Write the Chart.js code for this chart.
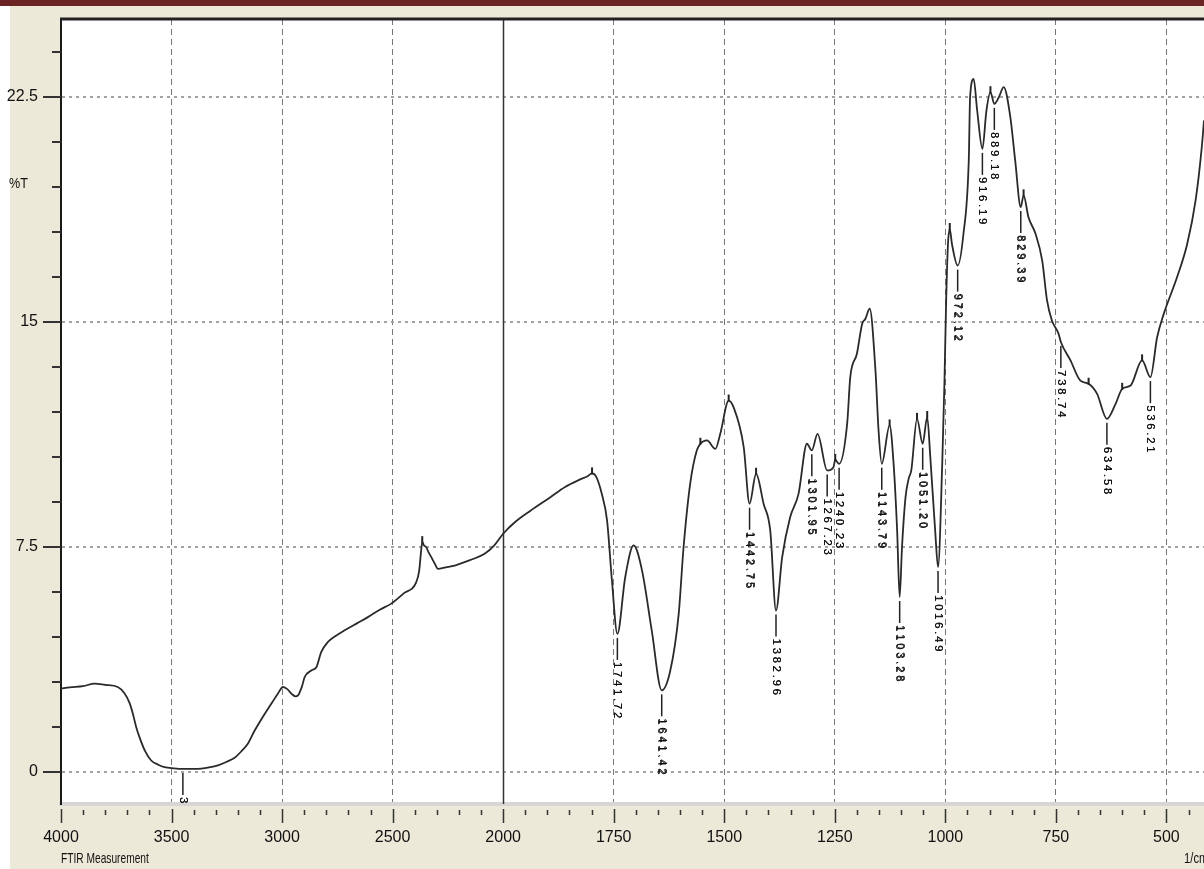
<!DOCTYPE html>
<html>
<head>
<meta charset="utf-8">
<script src="https://cdn.jsdelivr.net/npm/chart.js@4.4.1/dist/chart.umd.min.js"></script>
<style>
  html, body { margin: 0; padding: 0; overflow: hidden; background: #ECE9D8; }
  canvas { display: block; }
</style>
</head>
<body>
<canvas id="ftir" width="1204" height="869"></canvas>
<script>
// FTIR spectrum: wavenumber (1/cm) and transmittance (%T)
const wavenumbers = [
  4000, 3960, 3900, 3848, 3800, 3743, 3713, 3690, 3675, 3660, 3645, 3620, 3592, 3560, 3532, 3490,
  3448.72, 3400, 3366, 3330, 3290, 3250, 3215, 3185, 3155, 3124, 3090, 3049, 3020, 2996, 2975, 2958,
  2940, 2928, 2910, 2898, 2868, 2845, 2823, 2793, 2760, 2717, 2660, 2612, 2560, 2506, 2450, 2393,
  2380, 2372, 2366, 2358, 2348, 2336, 2325, 2310, 2295, 2260, 2219, 2150, 2084, 2040, 2000,
  1973, 1939, 1894, 1860, 1826, 1810, 1799, 1790, 1777, 1765, 1754, 1741.72, 1724, 1705, 1686, 1664,
  1641.42, 1622, 1603, 1592, 1577, 1562, 1554, 1539, 1520, 1509, 1490, 1479, 1456, 1442.75, 1428,
  1411, 1396, 1382.96, 1369, 1351, 1332, 1313, 1301.95, 1289, 1267.23, 1253, 1249, 1240.23, 1222,
  1215, 1200, 1188, 1181, 1171, 1158, 1151, 1143.79, 1126, 1117, 1109, 1103.28, 1098, 1090, 1083,
  1077, 1064, 1051.20, 1041, 1034, 1023, 1016.49, 1007, 1002, 998, 994, 990, 985, 972.12, 959, 947,
  944, 936, 928, 916.19, 907, 898, 889.18, 879, 868, 853, 842, 829.39, 823, 812, 796, 781, 770, 759,
  744, 738.74, 717, 695, 676, 657, 634.58, 615, 600, 581, 555, 536.21, 521, 506, 476, 453, 434, 420,
  415, 400
];
const transmittance = [
  2.78, 2.82, 2.86, 2.94, 2.90, 2.83, 2.62, 2.30, 1.94, 1.50, 1.16, 0.70, 0.38, 0.24, 0.16, 0.12,
  0.10, 0.10, 0.11, 0.15, 0.22, 0.34, 0.47, 0.68, 0.94, 1.38, 1.80, 2.27, 2.60, 2.83, 2.75, 2.61,
  2.52, 2.55, 2.85, 3.16, 3.38, 3.49, 3.99, 4.33, 4.52, 4.72, 4.96, 5.16, 5.40, 5.61, 5.95, 6.33,
  6.70, 7.30, 7.66, 7.55, 7.49, 7.30, 7.16, 6.95, 6.77, 6.82, 6.88, 7.06, 7.27, 7.55, 7.94,
  8.33, 8.70, 9.15, 9.50, 9.75, 9.85, 9.95, 9.85, 9.27, 8.38, 6.38, 4.60, 6.49, 7.55, 6.72, 4.72,
  2.72, 3.38, 5.27, 7.49, 9.61, 10.72, 10.94, 11.05, 10.77, 11.27, 12.38, 12.16, 10.83, 8.94, 9.94,
  8.94, 8.05, 5.38, 7.16, 8.49, 9.27, 10.94, 10.72, 11.27, 10.05, 10.16, 10.40, 10.27, 11.61,
  13.16, 13.94, 14.94, 15.10, 15.44, 13.38, 11.38, 10.27, 11.55, 10.27, 8.05, 5.83, 7.49, 9.16, 9.77,
  10.05, 11.77, 10.94, 11.83, 10.50, 8.05, 6.83, 10.27, 13.00, 15.80, 17.60, 18.10, 17.60, 16.88, 17.94, 20.38,
  22.49, 23.10, 22.05, 20.77, 22.05, 22.66, 22.27, 22.49, 22.83, 21.83, 20.38, 18.83, 19.22, 18.49, 17.94, 17.05, 15.72, 15.05,
  14.61, 14.33, 13.72, 13.05, 12.94, 12.61, 11.77, 12.27, 12.77, 12.88, 13.72, 13.16, 14.49, 15.27, 16.49, 17.60, 19.05, 20.83,
  21.72, 24.50
];

// picked absorption bands (labels drawn under each band)
const peakLabels = [
  '3448.72', '1741.72', '1641.42', '1442.75', '1382.96', '1301.95', '1267.23', '1240.23',
  '1143.79', '1103.28', '1051.20', '1016.49', '972.12', '916.19', '889.18', '829.39',
  '738.74', '634.58', '536.21'
];
// small markers on local maxima
const maximaMarks = [2366, 1799, 1554, 1490, 1428, 1249, 1126, 1064, 1041, 990, 898, 823, 676, 600, 555];

const xTickLabels = ['4000', '3500', '3000', '2500', '2000', '1750', '1500', '1250', '1000', '750', '500'];
const yTickLabels = ['0', '7.5', '15', '22.5'];
const yMinorStep = 1.5;
const xMinorPerDivision = 5;

const FONT = "'Liberation Sans', Arial, sans-serif";

// split abscissa: 500 1/cm per division above 2000, 250 1/cm per division below
function toAxis(wn) { return wn >= 2000 ? (4000 - wn) / 500 : 4 + (2000 - wn) / 250; }
function valueAt(wn) { return transmittance[wavenumbers.indexOf(wn)]; }

const points = wavenumbers.map((wn, i) => ({ x: toAxis(wn), y: transmittance[i] }));
const xMajor = xTickLabels.map(l => ({ pos: toAxis(parseFloat(l)), label: l }));
const splitPos = toAxis(2000);
const yMajor = yTickLabels.map(l => ({ pos: parseFloat(l), label: l }));

function isXMajor(v) { return xMajor.find(m => Math.abs(m.pos - v) < 1e-6); }
function isYMajor(v) { return yMajor.find(m => Math.abs(m.pos - v) < 1e-6); }

// narrow caption text
function caption(ctx, text, x, y, size, squeeze) {
  ctx.save();
  ctx.translate(x, y);
  ctx.scale(squeeze, 1);
  ctx.font = size + 'px ' + FONT;
  ctx.fillText(text, 0, 0);
  ctx.restore();
}

const frame = {
  id: 'frame',
  beforeDraw(chart) {
    const { ctx, chartArea: a, width, height } = chart;
    ctx.save();
    ctx.fillStyle = '#ECE9D8';
    ctx.fillRect(0, 0, width, height);
    ctx.fillStyle = '#ffffff';
    ctx.fillRect(0, 0, 10, height);
    ctx.fillStyle = '#6b2323';
    ctx.fillRect(0, 0, width, 6);
    ctx.fillStyle = '#ffffff';
    ctx.fillRect(a.left, a.top, a.right - a.left, a.bottom - a.top);
    ctx.restore();
  },
  beforeDatasetsDraw(chart) {
    const { ctx, chartArea: a, scales: { x } } = chart;
    const px = Math.round(x.getPixelForValue(splitPos)) + 0.5;
    ctx.save();
    ctx.strokeStyle = '#333';
    ctx.lineWidth = 1.5;
    ctx.beginPath();
    ctx.moveTo(px, a.top);
    ctx.lineTo(px, a.bottom);
    ctx.stroke();
    ctx.restore();
  },
  afterDatasetsDraw(chart) {
    const { ctx, chartArea: a, scales: { x, y } } = chart;
    ctx.save();
    ctx.beginPath();
    ctx.rect(a.left, a.top, a.right - a.left, a.bottom - a.top);
    ctx.clip();
    ctx.strokeStyle = '#222';
    ctx.fillStyle = '#111';
    // maxima markers
    ctx.lineWidth = 2;
    maximaMarks.forEach(wn => {
      const px = x.getPixelForValue(toAxis(wn));
      const py = y.getPixelForValue(valueAt(wn));
      ctx.beginPath();
      ctx.moveTo(px, py - 6);
      ctx.lineTo(px, py + 1);
      ctx.stroke();
    });
    // band labels
    ctx.lineWidth = 1.5;
    ctx.font = "11px 'Liberation Sans', sans-serif";
    ctx.textBaseline = 'middle';
    ctx.textAlign = 'left';
    peakLabels.forEach(lbl => {
      const wn = parseFloat(lbl);
      const px = x.getPixelForValue(toAxis(wn));
      const py = y.getPixelForValue(valueAt(wn));
      ctx.beginPath();
      ctx.moveTo(px, py + 4);
      ctx.lineTo(px, py + 26);
      ctx.stroke();
      ctx.save();
      ctx.translate(px, py + 28);
      ctx.rotate(Math.PI / 2);
      let off = 0;
      for (const ch of lbl) {
        ctx.fillText(ch, off, 0);
        ctx.fillText(ch, off + 0.4, 0.3);
        off += ch === '.' ? 5 : 9;
      }
      ctx.restore();
    });
    ctx.restore();
  },
  afterDraw(chart) {
    const { ctx, chartArea: a, scales: { x, y } } = chart;
    ctx.save();
    // top frame edge
    ctx.strokeStyle = '#222';
    ctx.lineWidth = 3;
    ctx.beginPath();
    ctx.moveTo(a.left - 1, a.top);
    ctx.lineTo(a.right, a.top);
    ctx.stroke();
    // y ticks
    ctx.strokeStyle = '#333';
    ctx.lineWidth = 2;
    y.ticks.forEach(t => {
      const py = Math.round(y.getPixelForValue(t.value));
      const len = isYMajor(t.value) ? 18 : 9;
      ctx.beginPath();
      ctx.moveTo(a.left - len, py);
      ctx.lineTo(a.left, py);
      ctx.stroke();
    });
    // x ticks
    ctx.lineWidth = 1.5;
    x.ticks.forEach(t => {
      const px = Math.round(x.getPixelForValue(t.value)) + 0.5;
      const major = isXMajor(t.value);
      ctx.beginPath();
      ctx.moveTo(px, a.bottom + (major ? 5 : 6));
      ctx.lineTo(px, a.bottom + (major ? 19 : 11));
      ctx.stroke();
    });
    // axis captions
    ctx.fillStyle = '#111';
    ctx.textBaseline = 'middle';
    ctx.textAlign = 'left';
    caption(ctx, '%T', 9, 184, 14, 0.9);
    caption(ctx, 'FTIR Measurement', a.left, 859, 15, 0.68);
    caption(ctx, '1/cm', 1184, 859, 15, 0.75);
    ctx.restore();
  }
};

new Chart(document.getElementById('ftir'), {
  type: 'line',
  data: {
    datasets: [{
      data: points,
      borderColor: '#2a2a2a',
      borderWidth: 1.8,
      pointRadius: 0,
      cubicInterpolationMode: 'monotone',
      fill: false
    }]
  },
  options: {
    responsive: false,
    animation: false,
    events: [],
    layout: { padding: { top: 19, left: 0, right: 0, bottom: 0 } },
    plugins: { legend: { display: false }, tooltip: { enabled: false } },
    scales: {
      x: {
        type: 'linear',
        min: 0,
        max: 10.34,
        afterFit(s) { s.height = 65; s.paddingLeft = 0; s.paddingRight = 0; },
        afterBuildTicks(s) {
          const ticks = [];
          const last = Math.floor(s.max * xMinorPerDivision + 1e-9);
          for (let i = 0; i <= last; i++) ticks.push({ value: i / xMinorPerDivision });
          s.ticks = ticks;
        },
        ticks: {
          autoSkip: false,
          maxRotation: 0,
          minRotation: 0,
          padding: 24,
          color: '#111',
          font: { family: FONT, size: 16 },
          callback(v) { const m = isXMajor(v); return m ? m.label : ''; }
        },
        grid: {
          drawTicks: false,
          color(ctx) {
            const v = ctx.tick ? ctx.tick.value : -1;
            return (isXMajor(v) && v > 0 && Math.abs(v - splitPos) > 1e-6) ? '#777' : 'rgba(0,0,0,0)';
          },
          lineWidth: 1
        },
        border: { display: true, color: '#d6d6d6', width: 4, dash: [6, 4] }
      },
      y: {
        type: 'linear',
        min: -1.07,
        max: 25.1,
        afterFit(s) { s.width = 61; s.paddingTop = 0; s.paddingBottom = 0; },
        afterBuildTicks(s) {
          const ticks = [];
          for (let i = 0; i * yMinorStep <= s.max + 1e-9; i++) ticks.push({ value: i * yMinorStep });
          s.ticks = ticks;
        },
        ticks: {
          autoSkip: false,
          padding: 23,
          color: '#111',
          font: { family: FONT, size: 16 },
          callback(v) { const m = isYMajor(v); return m ? m.label : ''; }
        },
        grid: {
          drawTicks: false,
          color(ctx) {
            const v = ctx.tick ? ctx.tick.value : -1;
            return isYMajor(v) ? '#a3a3a3' : 'rgba(0,0,0,0)';
          },
          lineWidth: 2
        },
        border: { display: true, color: '#1a1a1a', width: 2, dash: [3, 4] }
      }
    }
  },
  plugins: [frame]
});
</script>
</body>
</html>
